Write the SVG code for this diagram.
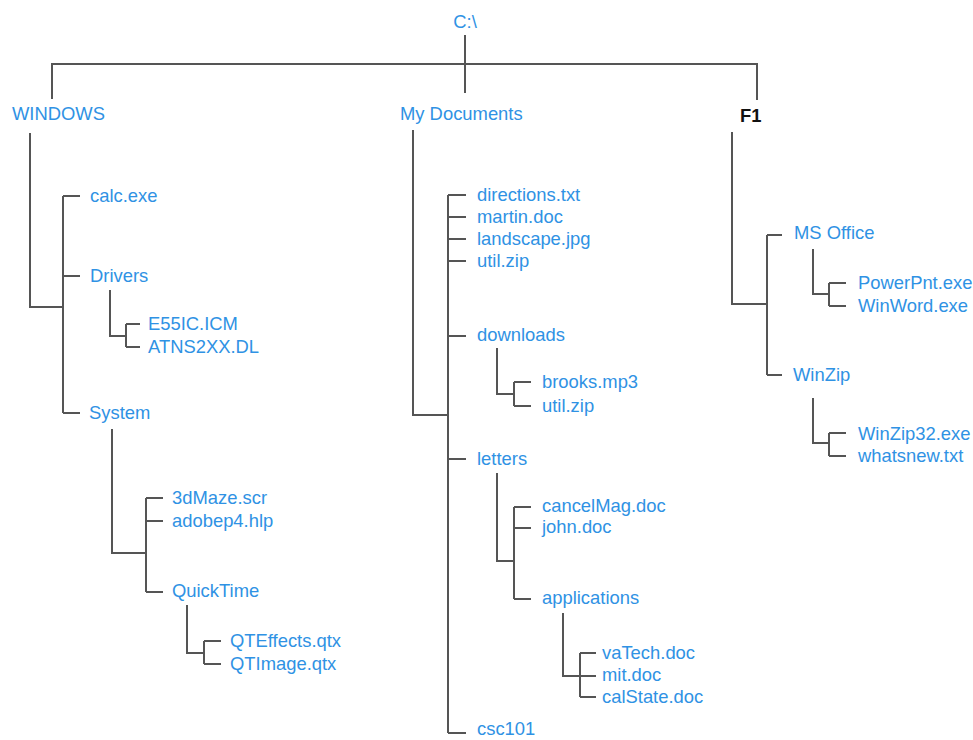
<svg xmlns="http://www.w3.org/2000/svg" width="973" height="740" viewBox="0 0 973 740">
<style>
text{font-family:"Liberation Sans",Arial,sans-serif;font-size:18.4px;fill:#2f92e4}
.b{fill:#111;font-weight:bold}
#connectors path{fill:none;stroke:#555;stroke-width:2}
</style>
<rect width="973" height="740" fill="#fff"/>
<g id="connectors">
<path d="M465 35V93M52 99V64H757V100"/>
<path d="M30 133V307H63M63 196V413M63 196H80M63 276H80M63 413H80"/>
<path d="M110 290V336H126M126 324V347M126 324H140M126 347H140"/>
<path d="M112 429V553H146M146 498V592M146 498H163M146 521H163M146 592H163"/>
<path d="M187 605V653H204M204 641V664M204 641H221M204 664H221"/>
<path d="M413 130V415H448M448 195V733M448 195H466M448 217H466M448 239H466M448 261H466M448 336H466M448 459H466M448 733H466"/>
<path d="M497 348V394H514M514 382V406M514 382H531M514 406H531"/>
<path d="M497 473V561H514M514 507V599M514 507H531M514 528H531M514 599H531"/>
<path d="M563 613V676H580M580 653V697M580 653H596M580 676H596M580 697H596"/>
<path d="M732 132V304H767M767 235V375M767 235H782M767 375H782"/>
<path d="M813 249V294H829M829 283V306M829 283H846M829 306H846"/>
<path d="M813 398V443H829M829 433V456M829 433H846M829 456H846"/>
</g>
<g id="root"><text x="465" y="28" text-anchor="middle">C:\</text></g>
<g id="windows"><text x="12" y="120">WINDOWS</text></g>
<g id="mydocs"><text x="400" y="120">My Documents</text></g>
<g id="f1"><text class="b" x="740" y="122">F1</text></g>
<g id="calc"><text x="90" y="202">calc.exe</text></g>
<g id="drivers"><text x="90" y="282">Drivers</text></g>
<g id="e55"><text x="148" y="330">E55IC.ICM</text></g>
<g id="atns"><text x="148" y="353">ATNS2XX.DL</text></g>
<g id="system"><text x="89" y="419">System</text></g>
<g id="maze"><text x="172" y="504">3dMaze.scr</text></g>
<g id="adobe"><text x="172" y="527">adobep4.hlp</text></g>
<g id="quicktime"><text x="172" y="597">QuickTime</text></g>
<g id="qteff"><text x="230" y="647">QTEffects.qtx</text></g>
<g id="qtimg"><text x="230" y="670">QTImage.qtx</text></g>
<g id="directions"><text x="477" y="201">directions.txt</text></g>
<g id="martin"><text x="477" y="223">martin.doc</text></g>
<g id="landscape"><text x="477" y="245">landscape.jpg</text></g>
<g id="util1"><text x="477" y="267">util.zip</text></g>
<g id="downloads"><text x="477" y="341">downloads</text></g>
<g id="brooks"><text x="542" y="388">brooks.mp3</text></g>
<g id="util2"><text x="542" y="412">util.zip</text></g>
<g id="letters"><text x="477" y="465">letters</text></g>
<g id="cancel"><text x="542" y="512">cancelMag.doc</text></g>
<g id="john"><text x="542" y="533">john.doc</text></g>
<g id="applications"><text x="542" y="604">applications</text></g>
<g id="vatech"><text x="602" y="659">vaTech.doc</text></g>
<g id="mit"><text x="602" y="681">mit.doc</text></g>
<g id="calstate"><text x="602" y="703">calState.doc</text></g>
<g id="csc"><text x="477" y="735">csc101</text></g>
<g id="msoffice"><text x="794" y="239">MS Office</text></g>
<g id="powerpnt"><text x="858" y="289">PowerPnt.exe</text></g>
<g id="winword"><text x="858" y="312">WinWord.exe</text></g>
<g id="winzip"><text x="793" y="381">WinZip</text></g>
<g id="winzip32"><text x="858" y="440">WinZip32.exe</text></g>
<g id="whatsnew"><text x="858" y="462">whatsnew.txt</text></g>
</svg>
